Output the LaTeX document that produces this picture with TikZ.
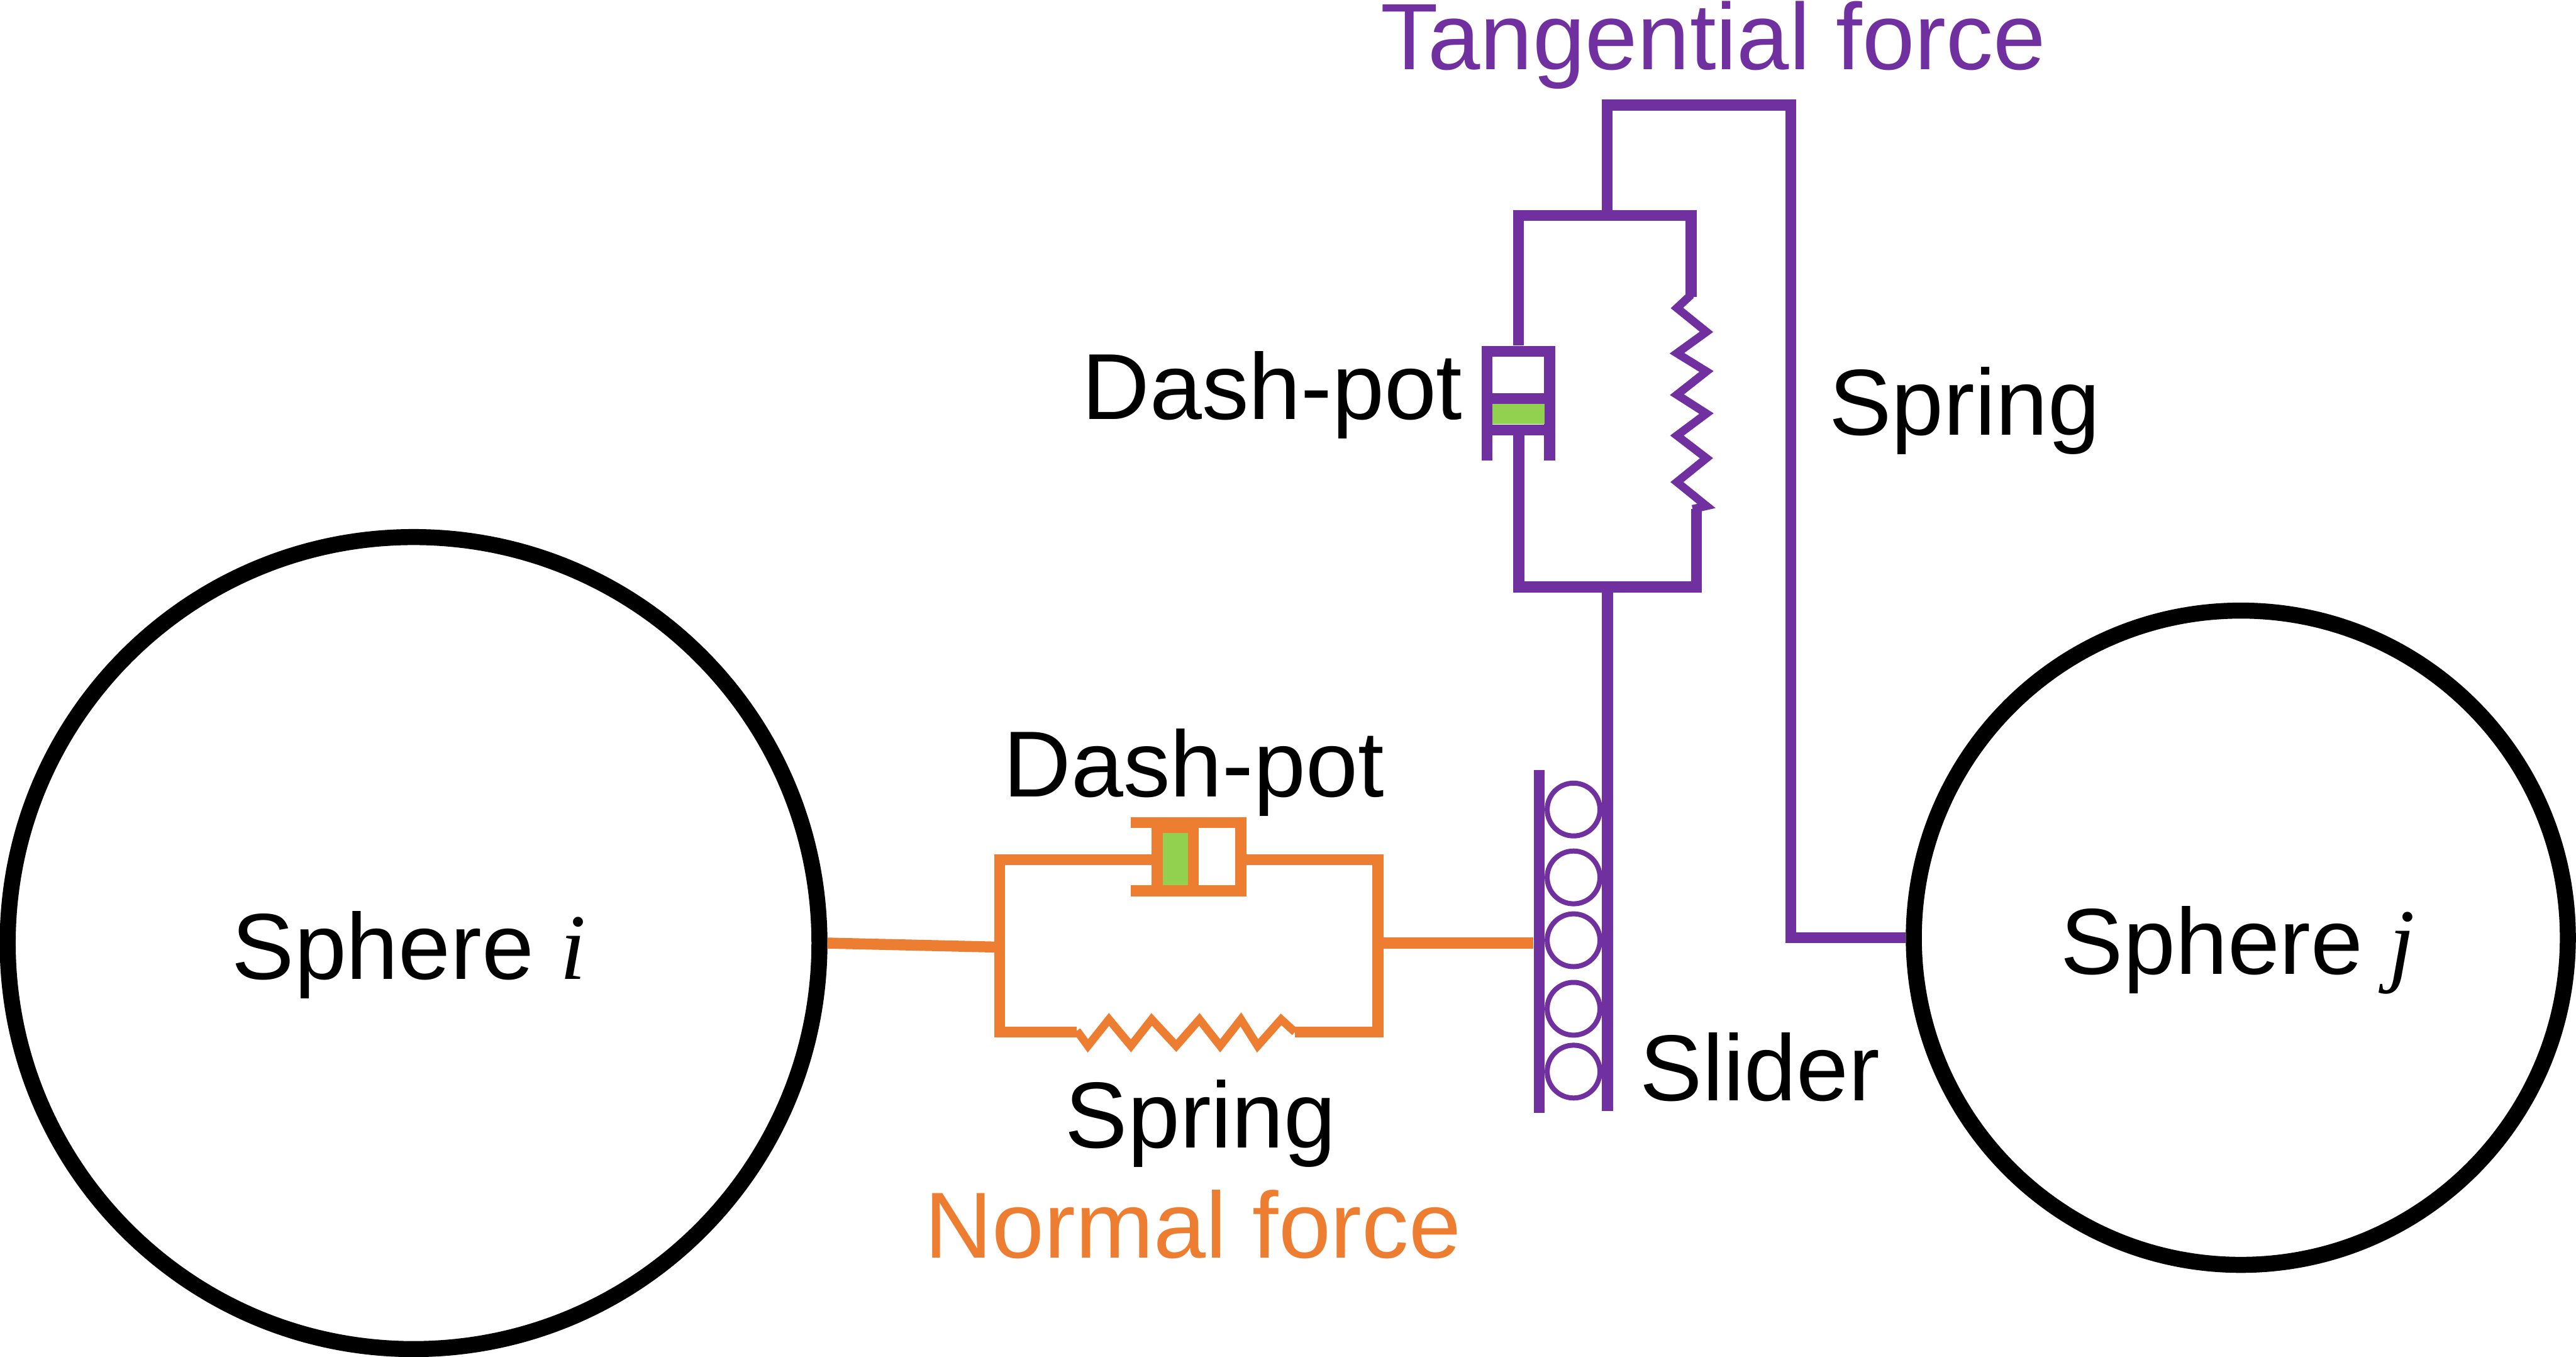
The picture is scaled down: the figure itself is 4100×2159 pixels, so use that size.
\documentclass[tikz,border=0pt]{standalone}
\usepackage{fontspec}
\setmainfont{Liberation Sans}
\newfontfamily\serifit{Liberation Serif}
\definecolor{tang}{HTML}{7030A0}
\definecolor{norm}{HTML}{ED7D31}
\definecolor{pist}{HTML}{92D050}
\tikzset{
  wire/.style={line width=8.75pt,line cap=butt,line join=miter},
  coil/.style={line width=6.5pt,line join=miter},
  ring/.style={circle,draw=black,line width=12.75pt,minimum size=#1,inner sep=0pt,fill=white},
  roller/.style={draw=tang,line width=4pt},
  lab/.style={inner sep=0pt,font=\fontsize{74.6}{80}\selectfont,anchor=base},
}
\begin{document}
\begin{tikzpicture}[x=0.5pt,y=-0.5pt]
\useasboundingbox (0,0) rectangle (4100,2159);
\fill[white] (0,0) rectangle (4100,2159);
% spheres
\node[ring=646pt] (si) at (658.25,1500.5) {};
\node[ring=520.5pt] (sj) at (3566.5,1492) {};
\node[lab] (ti) at (651,1558) {Sphere {\serifit\itshape i}};
\node[lab] (tj) at (3562,1550) {Sphere {\serifit\itshape j}};
% tangential
\coordinate (a1) at (2558,167);
\coordinate (a2) at (2850,167);
\coordinate (a3) at (2850,1492);
\draw[wire,tang] (2558,343) -- (a1) -- (a2) -- (a3) -- (sj.west);
\draw[wire,tang] (2416.6,550) -- (2416.6,343) -- (2691.6,343) -- (2691.6,472);
\draw[coil,tang] (2691.6,469) -- (2669,490) -- (2716,528) -- (2669,562) -- (2716,591) -- (2669,628) -- (2716,658) -- (2669,693) -- (2716,729) -- (2669,767) -- (2716,805) -- (2694,810);
\draw[wire,tang] (2700,810) -- (2700,934) -- (2417.5,934) -- (2417.5,684);
\draw[wire,tang] (2366.6,733) -- (2366.6,559) -- (2466.6,559) -- (2466.6,733);
\fill[pist] (2375,643) rectangle (2458,675);
\draw[wire,tang] (2366.6,634) -- (2466.6,634);
\draw[wire,tang] (2366.6,684) -- (2466.6,684);
\draw[wire,tang] (2558.5,934) -- (2558.5,1768);
\draw[wire,tang] (2450,1225) -- (2450,1771);
\foreach \yy in {1288,1396,1496,1605,1705}
  \draw[roller] (2504.5,\yy) circle[radius=42];
% normal
\coordinate (b1) at (1591,1507);
\draw[wire,norm] (si.east) -- (b1);
\draw[wire,norm] (1842,1368) -- (1591,1368) -- (1591,1642) -- (1714,1642);
\draw[coil,norm] (1714,1640) -- (1731.5,1664) -- (1765,1622) -- (1800,1664) -- (1833,1622) -- (1872,1664) -- (1909,1622) -- (1942,1664) -- (1975,1622) -- (2001.6,1664) -- (2039,1622) -- (2061,1642);
\draw[wire,norm] (2061,1642) -- (2193,1642) -- (2193,1368) -- (1975,1368);
\fill[pist] (1850,1325.5) rectangle (1891,1409);
\fill[norm] (1842,1309) rectangle (1899.5,1325.5);
\draw[wire,norm] (1800,1309) -- (1975,1309) -- (1975,1417.5) -- (1800,1417.5);
\draw[wire,norm] (1842,1300) -- (1842,1426);
\draw[wire,norm] (1899.5,1300) -- (1899.5,1426);
\draw[wire,norm] (2193,1500.5) -- (2440,1500.5);
% labels
\node[lab,text=tang,font=\fontsize{75}{80}\selectfont] (lt) at (2727,110.5) {Tangential force};
\node[lab] (ld1) at (2025,667) {Dash-pot};
\node[lab] (ls1) at (3127,692) {Spring};
\node[lab] (ld2) at (1900,1268) {Dash-pot};
\node[lab] (ls2) at (1911,1826) {Spring};
\node[lab] (lsl) at (2801,1751) {Slider};
\node[lab,text=norm] (ln) at (1898.5,2001) {Normal force};
\end{tikzpicture}
\end{document}
